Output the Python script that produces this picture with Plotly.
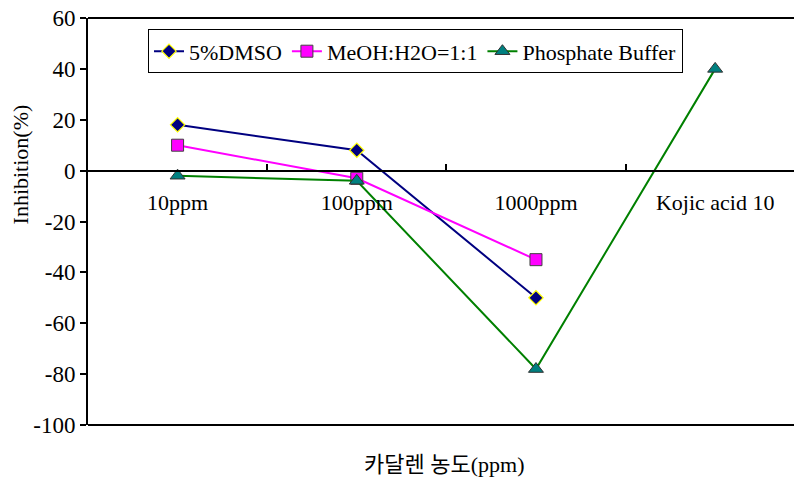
import plotly.graph_objects as go

categories = ["10ppm", "100ppm", "1000ppm", "Kojic acid 10"]
dmso = [18, 8, -50, None]
meoh = [10, -3, -35, None]
phosphate = [-2, -4, -78, 40]
y_ticks = [-100, -80, -60, -40, -20, 0, 20, 40, 60]
y_tick_labels = [str(v) for v in y_ticks]

serif = "Liberation Serif"

fig = go.Figure()
fig.add_trace(go.Scatter(
    x=categories, y=dmso, name="5%DMSO", mode="lines+markers",
    line=dict(color="#000080", width=2),
    marker=dict(symbol="diamond", size=11, color="#000080",
                line=dict(color="#FFFF00", width=1.2)),
))
fig.add_trace(go.Scatter(
    x=categories, y=meoh, name="MeOH:H2O=1:1", mode="lines+markers",
    line=dict(color="#FF00FF", width=2),
    marker=dict(symbol="square", size=12, color="#FF00FF",
                line=dict(color="#404040", width=1)),
))
fig.add_trace(go.Scatter(
    x=categories, y=phosphate, name="Phosphate Buffer", mode="lines+markers",
    line=dict(color="#008000", width=2),
    marker=dict(symbol="triangle-up", size=13, color="#008080",
                line=dict(color="#303030", width=1)),
))

fig.update_layout(
    width=794, height=481,
    margin=dict(l=88, r=0, t=18, b=56),
    paper_bgcolor="white", plot_bgcolor="white",
    font=dict(family=serif, size=22, color="black"),
    showlegend=True,
    legend=dict(
        orientation="h", x=0.085, y=0.972, xanchor="left", yanchor="top",
        bordercolor="black", borderwidth=1, bgcolor="white",
        font=dict(family=serif, size=22), itemwidth=30,
        tracegroupgap=0,
    ),
    xaxis=dict(
        type="category", range=[-0.5, 3.44],
        anchor="free", position=0.625,
        showline=True, linecolor="black", linewidth=2,
        ticks="inside", tickson="boundaries", ticklen=6, tickwidth=1.5,
        tickcolor="black", showgrid=False, zeroline=False,
        ticklabelstandoff=12,
        tickfont=dict(family=serif, size=22),
    ),
    yaxis=dict(
        range=[-100, 60], tickvals=y_ticks, ticktext=y_tick_labels,
        showline=True, linecolor="black", linewidth=2,
        ticks="outside", ticklen=6, tickwidth=1.5, tickcolor="black",
        showgrid=False, zeroline=False,
        tickfont=dict(family=serif, size=23),
    ),
    shapes=[
        dict(type="line", xref="paper", yref="paper", x0=0, x1=1, y0=1, y1=1,
             line=dict(color="black", width=2)),
        dict(type="line", xref="paper", yref="paper", x0=0, x1=1, y0=0, y1=0,
             line=dict(color="black", width=2)),
    ],
    annotations=[
        dict(text="Inhibition(%)", xref="paper", yref="paper",
             x=-0.095, y=0.64, xanchor="center", yanchor="middle",
             textangle=-90, showarrow=False,
             font=dict(family=serif, size=22)),
        dict(text="카달렌 농도(ppm)", xref="paper", yref="paper",
             x=0.504, y=-0.098, xanchor="center", yanchor="middle",
             showarrow=False,
             font=dict(family="Liberation Serif, Noto Sans CJK KR", size=22)),
    ],
)

fig.write_html("out.html")
